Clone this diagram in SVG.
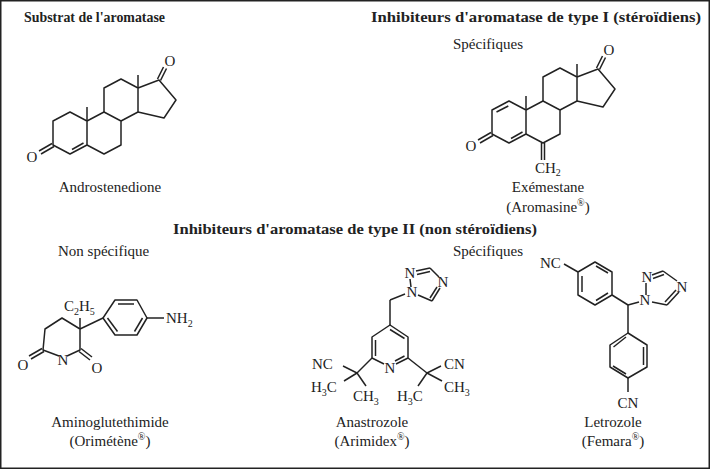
<svg xmlns="http://www.w3.org/2000/svg" width="710" height="469" viewBox="0 0 710 469">
<style>
text{font-family:"Liberation Serif",serif;font-size:15px;fill:#222}
.b{font-weight:bold;font-size:14.5px}
.m{text-anchor:middle}
.s{font-size:10px}
line,polyline,polygon{stroke:#222;stroke-width:1.5;fill:none;stroke-linejoin:round}
</style>
<rect x="0.75" y="0.75" width="708.5" height="467.5" fill="#fff" stroke="#222" stroke-width="1.5"/>
<text x="24" y="22" class="b" textLength="141" lengthAdjust="spacingAndGlyphs">Substrat de l'aromatase</text>
<text x="371" y="22" class="b" textLength="330" lengthAdjust="spacingAndGlyphs">Inhibiteurs d'aromatase de type I (stéroïdiens)</text>
<text x="453" y="49">Spécifiques</text>
<text x="173" y="234" class="b" textLength="364" lengthAdjust="spacingAndGlyphs">Inhibiteurs d'aromatase de type II (non stéroïdiens)</text>
<text x="58" y="256">Non spécifique</text>
<text x="453" y="256">Spécifiques</text>
<text x="110" y="192" class="m">Androstenedione</text>
<text x="548" y="192" class="m">Exémestane</text>
<text x="548" y="212" class="m">(Aromasine<tspan class="s" dy="-6">®</tspan><tspan dy="6">)</tspan></text>
<text x="110" y="427" class="m">Aminoglutethimide</text>
<text x="110" y="446" class="m">(Orimétène<tspan class="s" dy="-6">®</tspan><tspan dy="6">)</tspan></text>
<text x="372" y="427" class="m">Anastrozole</text>
<text x="372" y="446" class="m">(Arimidex<tspan class="s" dy="-6">®</tspan><tspan dy="6">)</tspan></text>
<text x="613" y="427" class="m">Letrozole</text>
<text x="613" y="446" class="m">(Femara<tspan class="s" dy="-6">®</tspan><tspan dy="6">)</tspan></text>

<g id="androstenedione">
<polygon points="70,112 87,121 87,145 70,154 53,145 53,121"/>
<polyline points="87,121 104,112 121,121 121,145 104,154 87,145"/>
<polyline points="104,112 104,88 121,79 138,88 138,112 121,121"/>
<polyline points="138,88 159,80 176,100 164,118 138,112"/>
<line x1="72" y1="149.5" x2="83.5" y2="143"/>
<line x1="52" y1="143.5" x2="39" y2="151"/><line x1="54" y1="146.5" x2="41" y2="154"/>
<line x1="157.5" y1="79" x2="163.5" y2="67"/><line x1="160.5" y1="80.5" x2="166.5" y2="68.5"/>
<line x1="87" y1="121" x2="87" y2="107"/><line x1="138" y1="88" x2="138" y2="75"/>
<text x="32" y="162" class="m">O</text><text x="170" y="66" class="m">O</text>
</g>

<g id="exemestane">
<polygon points="509,101 526,110 526,134 509,143 492,134 492,110"/>
<polyline points="526,110 543,101 560,110 560,134 543,143 526,134"/>
<polyline points="543,101 543,77 560,68 577,77 577,101 560,110"/>
<polyline points="577,77 598,69 615,89 603,107 577,101"/>
<line x1="496.5" y1="112" x2="508.3" y2="106"/>
<line x1="511" y1="138.5" x2="522.5" y2="132"/>
<line x1="491" y1="132.5" x2="478" y2="140"/><line x1="493" y1="135.5" x2="480" y2="143"/>
<line x1="596.5" y1="68" x2="602.5" y2="56"/><line x1="599.5" y1="69.5" x2="605.5" y2="57.5"/>
<line x1="526" y1="110" x2="526" y2="96"/><line x1="577" y1="77" x2="577" y2="64"/>
<line x1="541.5" y1="143" x2="541.5" y2="160"/><line x1="544.5" y1="143" x2="544.5" y2="160"/>
<text x="471" y="151" class="m">O</text><text x="609" y="55" class="m">O</text>
<text x="535" y="173">CH<tspan class="s" dy="3">2</tspan></text>
</g>

<g id="aminoglutethimide">
<polyline points="67,356 80,350 80,329 62,318 45,329 43,350 59,356"/>
<line x1="80" y1="329" x2="80" y2="318"/>
<line x1="80" y1="329" x2="103" y2="318"/>
<polygon points="103,318 115,300 137,300 147,318 137,335 115,335"/>
<line x1="118" y1="304" x2="134" y2="304"/>
<line x1="142.5" y1="318" x2="134.5" y2="331.5"/>
<line x1="117.5" y1="331.5" x2="107.5" y2="318"/>
<line x1="147" y1="318" x2="164" y2="318"/>
<line x1="42" y1="348.5" x2="29" y2="356"/><line x1="44" y1="351.5" x2="31" y2="359"/>
<line x1="79" y1="351.5" x2="90" y2="360"/><line x1="81" y1="348.5" x2="92" y2="357"/>
<text x="63" y="365" class="m">N</text>
<text x="23" y="370" class="m">O</text><text x="97" y="373" class="m">O</text>
<text x="64" y="311">C<tspan class="s" dy="4">2</tspan><tspan dy="-4">H</tspan><tspan class="s" dy="4">5</tspan></text>
<text x="166" y="323">NH<tspan class="s" dy="4">2</tspan></text>
</g>

<g id="anastrozole">
<polyline points="384,364 372,358 372,337 390,325 408,337 408,358 396,364"/>
<line x1="375.5" y1="340" x2="375.5" y2="356"/>
<line x1="390" y1="329.5" x2="404.5" y2="338.5"/>
<line x1="404.5" y1="356" x2="395" y2="361"/>
<line x1="390" y1="325" x2="390" y2="300"/>
<line x1="390" y1="300" x2="405" y2="294"/>
<line x1="411" y1="287" x2="410" y2="279"/>
<line x1="416" y1="271" x2="430" y2="268"/><line x1="417" y1="274.5" x2="430" y2="271.5"/>
<line x1="430" y1="268" x2="439" y2="277"/>
<line x1="440" y1="288" x2="432" y2="301"/><line x1="437" y1="287" x2="430" y2="298"/>
<line x1="432" y1="301" x2="418" y2="295"/>
<text x="390" y="373" class="m">N</text>
<text x="410" y="278" class="m">N</text><text x="443" y="287" class="m">N</text><text x="412" y="297" class="m">N</text>
<line x1="372" y1="358" x2="357" y2="373"/>
<line x1="357" y1="373" x2="343" y2="366"/><line x1="357" y1="373" x2="344" y2="381"/><line x1="357" y1="373" x2="366" y2="386"/>
<line x1="408" y1="358" x2="427" y2="373"/>
<line x1="427" y1="373" x2="441" y2="366"/><line x1="427" y1="373" x2="442" y2="381"/><line x1="427" y1="373" x2="418" y2="386"/>
<text x="312" y="369">NC</text>
<text x="311" y="392">H<tspan class="s" dy="4">3</tspan><tspan dy="-4">C</tspan></text>
<text x="353" y="401">CH<tspan class="s" dy="4">3</tspan></text>
<text x="397" y="401">H<tspan class="s" dy="4">3</tspan><tspan dy="-4">C</tspan></text>
<text x="444" y="369">CN</text>
<text x="444" y="392">CH<tspan class="s" dy="4">3</tspan></text>
</g>

<g id="letrozole">
<polygon points="578,272 595,262 612,272 612,295 595,305 578,295"/>
<line x1="596" y1="266" x2="608" y2="273"/>
<line x1="608" y1="293" x2="596" y2="300.5"/>
<line x1="582" y1="276" x2="582" y2="292"/>
<line x1="578" y1="272" x2="564" y2="264"/>
<text x="540" y="268">NC</text>
<line x1="612" y1="295" x2="628" y2="305"/>
<line x1="628" y1="305" x2="639" y2="302"/>
<line x1="628" y1="305" x2="628" y2="333"/>
<polygon points="628,333 647,345 647,367 628,378 610,367 610,345"/>
<line x1="643.5" y1="347" x2="643.5" y2="365"/>
<line x1="626" y1="374" x2="613" y2="366"/>
<line x1="613.5" y1="347" x2="626" y2="337"/>
<line x1="628" y1="378" x2="628" y2="392"/>
<text x="628" y="408" class="m">CN</text>
<line x1="646" y1="295" x2="646" y2="283"/>
<line x1="652" y1="275" x2="663" y2="271"/><line x1="653" y1="278.5" x2="664" y2="274.5"/>
<line x1="663" y1="271" x2="677" y2="281"/>
<line x1="679" y1="292" x2="667" y2="305"/><line x1="676" y1="290" x2="665" y2="302"/>
<line x1="667" y1="305" x2="652" y2="302"/>
<text x="645" y="305" class="m">N</text><text x="647" y="282" class="m">N</text><text x="682" y="292" class="m">N</text>
</g>
</svg>
